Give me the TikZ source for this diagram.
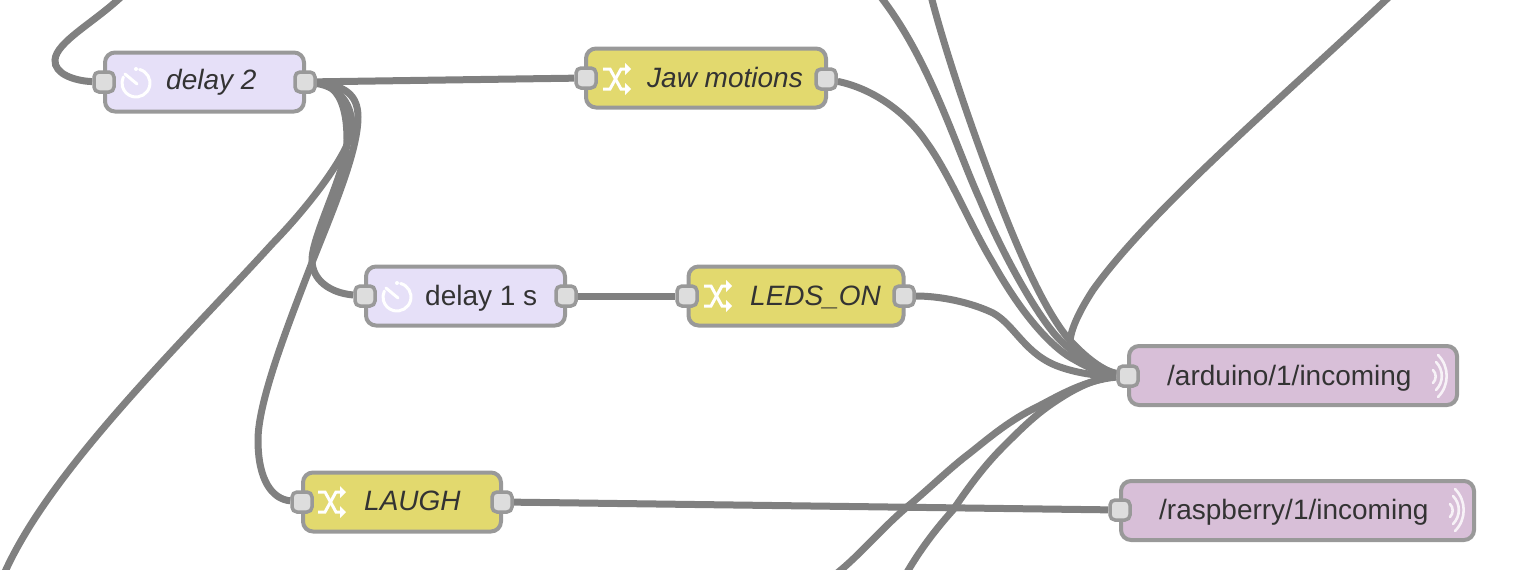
\documentclass[tikz,border=0pt]{standalone}
\usepackage{fontspec}
\setmainfont{Liberation Sans}
\usetikzlibrary{positioning, backgrounds}
\definecolor{wire}{HTML}{808080}
\definecolor{edge}{HTML}{999999}
\definecolor{portfill}{HTML}{DDDDDD}
\definecolor{delayfill}{HTML}{E6E0F8}
\definecolor{changefill}{HTML}{E2D96E}
\definecolor{mqttfill}{HTML}{D8BFD8}
\definecolor{txt}{HTML}{333333}
\tikzset{
  x=1pt, y=-1pt, % pixels of the reference, y downwards
  wire/.style={draw=wire, line width=7pt},
  box/.style={draw=edge, line width=4pt, rounded corners=10pt, minimum height=59pt, inner sep=0pt},
  delaybox/.style={box, fill=delayfill},
  changebox/.style={box, fill=changefill},
  mqttbox/.style={box, fill=mqttfill},
  port/.style={draw=edge, fill=portfill, line width=3.5pt, rounded corners=5pt,
    minimum size=20pt, inner sep=0pt},
  caption/.style={anchor=base west, inner sep=0pt, text=txt, font=\fontsize{28}{30}\selectfont},
  icaption/.style={caption, font=\fontsize{28}{30}\selectfont\itshape},
  icon/.style={draw=white, line width=3pt, line cap=round},
}
\newcommand{\clockicon}[1]{
  \draw[icon] (#1) ++(-75:14) arc (-75:205:14);
  \draw[icon] (#1) ++(-11,-9) -- ++(12,10);
  \fill[white] (#1) ++(0,-14) circle (2);
}
\newcommand{\shuffleicon}[1]{
  \draw[icon, line cap=butt] (#1) ++(-14,-10) -- ++(7,0) -- ++(11,20) -- ++(5,0);
  \draw[icon, line cap=butt] (#1) ++(-14,10) -- ++(7,0) -- ++(11,-20) -- ++(5,0);
  \fill[white] (#1) ++(8,-16) -- ++(6,6) -- ++(-6,6) -- cycle;
  \fill[white] (#1) ++(8,4) -- ++(6,6) -- ++(-6,6) -- cycle;
}
\newcommand{\waveicon}[1]{
  \draw[icon, line width=2.6pt, opacity=.8] (#1) ++(-6,-6) to[bend left=45] ++(0,13);
  \draw[icon, line width=2.6pt, opacity=.8] (#1) ++(-3,-14) to[bend left=45] ++(0,28);
  \draw[icon, line width=2.6pt, opacity=.8] (#1) ++(-1,-21) to[bend left=45] ++(0,42);
}
\begin{document}
\begin{tikzpicture}
  \useasboundingbox (0,0) rectangle (1518,570);

  \coordinate (topa) at (122,-4);
  \coordinate (topb) at (880,-4);
  \coordinate (topc) at (931,-4);
  \coordinate (topd) at (1390,-4);
  \coordinate (bota) at (4,574);
  \coordinate (botb) at (836,574);
  \coordinate (botc) at (906,574);

  \node[delaybox, minimum width=199pt] (delaytwo) at (204.5,82) {};
  \node[changebox, minimum width=240pt] (jaw) at (706,78) {};
  \node[delaybox, minimum width=199pt] (delayone) at (465.5,296) {};
  \node[changebox, minimum width=215pt] (leds) at (796,296) {};
  \node[changebox, minimum width=198pt] (laugh) at (402,502) {};
  \node[mqttbox, minimum width=328pt] (arduino) at (1293,375.5) {};
  \node[mqttbox, minimum width=353pt] (raspberry) at (1297.5,510.5) {};

  \node[icaption] (delaytwotext) at (166,89) {delay 2};
  \node[icaption] (jawtext) at (647,87) {Jaw motions};
  \node[caption] (delayonetext) at (425,305) {delay 1 s};
  \node[icaption] (ledstext) at (750,305) {LEDS\_ON};
  \node[icaption] (laughtext) at (364,510) {LAUGH};
  \node[caption] (arduinotext) at (1167,385) {/arduino/1/incoming};
  \node[caption] (raspberrytext) at (1159,519) {/raspberry/1/incoming};

  \clockicon{136,83}
  \clockicon{397,297}
  \shuffleicon{617,79}
  \shuffleicon{718,296}
  \shuffleicon{332,502}
  \waveicon{1439,376}
  \waveicon{1456,510}

  \node[port] (delaytwoin) at (104,82) {};
  \node[port] (delaytwoout) at (305,82) {};
  \node[port] (jawin) at (586,78) {};
  \node[port] (jawout) at (826,79) {};
  \node[port] (delayonein) at (365,296) {};
  \node[port] (delayoneout) at (566,296) {};
  \node[port] (ledsin) at (687,296) {};
  \node[port] (ledsout) at (904,296) {};
  \node[port] (laughin) at (302,502) {};
  \node[port] (laughout) at (502,502) {};
  \node[port] (arduinoin) at (1128,376) {};
  \node[port] (raspberryin) at (1120,510) {};

  \begin{scope}[on background layer]
    \draw[wire] (topa) .. controls (95,22) and (56,42) .. (55,60) .. controls (54,74) and (75,81) .. (delaytwoin);
    \draw[wire] (delaytwoout) -- (jawin);
    \draw[wire] (delayoneout) -- (ledsin);
    \draw[wire] (laughout) -- (raspberryin);
    \draw[wire] (delaytwoout) .. controls (335,84) and (347,100) .. (347,140) .. controls (347,170) and (312,235) .. (312,260) .. controls (312,280) and (330,293) .. (delayonein);
    \draw[wire] (delaytwoout) .. controls (345,85) and (358,95) .. (358,117) .. controls (358,150) and (335,205) .. (313,260) .. controls (290,320) and (258,400) .. (258,440) .. controls (258,480) and (272,499) .. (laughin);
    \draw[wire] (delaytwoout) .. controls (335,86) and (352,100) .. (352,127) .. controls (352,150) and (310,205) .. (273,243) .. controls (180,345) and (50,470) .. (bota);
    \draw[wire] (jawout) .. controls (870,88) and (905,110) .. (927,143) .. controls (950,175) and (970,225) .. (993,263) .. controls (1025,320) and (1055,350) .. (1075,360) .. controls (1090,369) and (1105,374) .. (arduinoin);
    \draw[wire] (ledsout) .. controls (940,296) and (970,302) .. (993,313) .. controls (1015,325) and (1025,355) .. (1060,367) .. controls (1080,374) and (1100,376) .. (arduinoin);
    \draw[wire] (topb) .. controls (930,60) and (955,145) .. (980,200) .. controls (1005,260) and (1040,320) .. (1060,340) .. controls (1075,355) and (1100,372) .. (arduinoin);
    \draw[wire] (topc) .. controls (945,50) and (970,125) .. (999,200) .. controls (1020,255) and (1045,310) .. (1067,337) .. controls (1080,352) and (1100,370) .. (arduinoin);
    \draw[wire] (topd) .. controls (1280,100) and (1150,210) .. (1093,290) .. controls (1080,310) and (1070,330) .. (1070,343) .. controls (1075,355) and (1100,370) .. (arduinoin);
    \draw[wire] (botb) .. controls (860,555) and (880,530) .. (907,507) .. controls (930,488) and (950,468) .. (970,453) .. controls (990,437) and (1010,420) .. (1037,407) .. controls (1060,395) and (1085,380) .. (arduinoin);
    \draw[wire] (botc) .. controls (920,550) and (935,530) .. (953,510) .. controls (970,485) and (985,465) .. (1003,447) .. controls (1020,430) and (1035,415) .. (1053,403) .. controls (1075,388) and (1095,378) .. (arduinoin);
  \end{scope}
\end{tikzpicture}
\end{document}
